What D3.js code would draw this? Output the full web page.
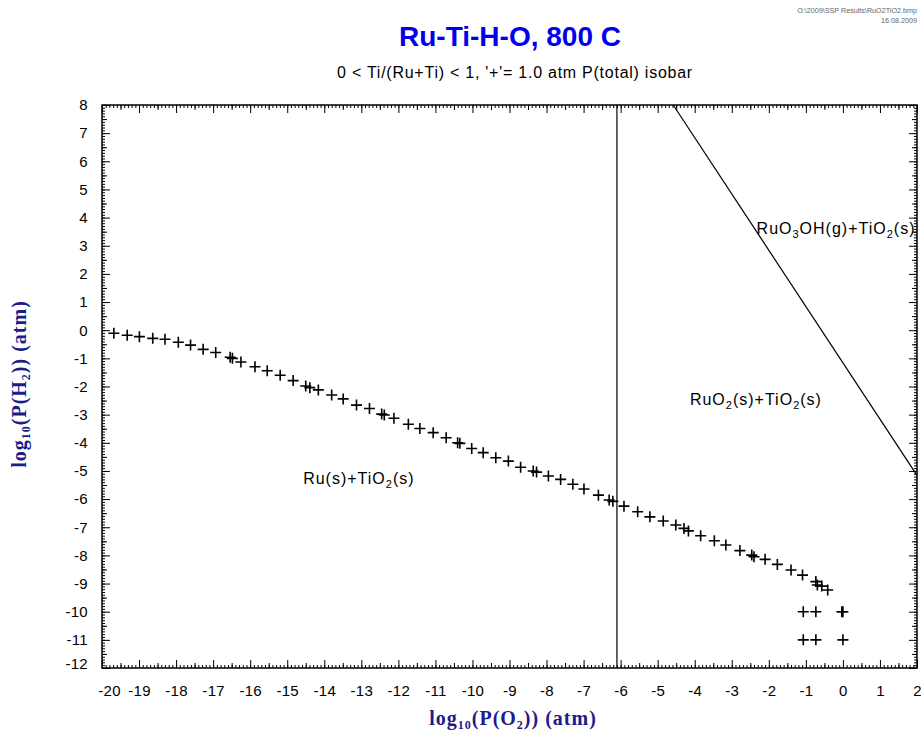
<!DOCTYPE html>
<html lang="en">
<head>
<meta charset="utf-8">
<title>Ru-Ti-H-O, 800 C</title>
<script src="https://d3js.org/d3.v7.min.js"></script>
<style>
  body { margin: 0; background: #fff; }
  svg text { font-family: "Liberation Sans", Arial, sans-serif; }
</style>
</head>
<body>
<div id="chart"></div>
<script>
// ---- data ----
var xTickValues = [-20, -19, -18, -17, -16, -15, -14, -13, -12, -11, -10, -9, -8, -7, -6, -5, -4, -3, -2, -1, 0, 1, 2];
var yTickValues = [8, 7, 6, 5, 4, 3, 2, 1, 0, -1, -2, -3, -4, -5, -6, -7, -8, -9, -10, -11, -12];

// '+' markers : 1.0 atm P(total) isobar
var isobarX = [-19.68, -19.32, -18.99, -18.63, -18.30, -17.94, -17.61, -17.27, -16.93, -16.54, -16.48,
  -16.25, -15.87, -15.54, -15.19, -14.84, -14.50, -14.39, -14.16, -13.80, -13.49, -13.13, -12.78,
  -12.45, -12.38, -12.12, -11.73, -11.42, -11.06, -10.71, -10.40, -10.34, -10.02, -9.71, -9.37,
  -9.03, -8.70, -8.36, -8.27, -7.95, -7.62, -7.29, -6.99, -6.60, -6.31, -6.21, -5.91, -5.54,
  -5.21, -4.85, -4.51, -4.29, -4.17, -3.84, -3.47, -3.16, -2.78, -2.46, -2.40, -2.10, -1.77,
  -1.40, -1.09, -0.73, -0.69, -0.57, -0.41,
  -1.07, -0.73, -0.03, 0.0, -1.07, -0.73, 0.0];
var isobarY = [-0.11, -0.18, -0.23, -0.29, -0.32, -0.43, -0.53, -0.68, -0.79, -0.96, -1.00,
  -1.13, -1.30, -1.44, -1.60, -1.79, -1.98, -2.04, -2.12, -2.30, -2.44, -2.66, -2.78,
  -2.98, -3.01, -3.13, -3.34, -3.49, -3.64, -3.82, -4.00, -4.02, -4.20, -4.35, -4.53,
  -4.65, -4.87, -5.00, -5.04, -5.18, -5.30, -5.47, -5.64, -5.86, -6.03, -6.08, -6.25, -6.45,
  -6.63, -6.78, -6.92, -7.04, -7.13, -7.30, -7.48, -7.63, -7.83, -7.99, -8.05, -8.14, -8.32,
  -8.52, -8.70, -8.93, -9.05, -9.09, -9.23,
  -10.0, -10.0, -10.0, -10.0, -11.0, -11.0, -11.0];

// phase boundaries
var boundaryVertX = [-6.1, -6.1];
var boundaryVertY = [8, -12];
var boundaryDiagX = [-4.58, 2];
var boundaryDiagY = [8, -5.16];

// region labels: [main, sub, main, sub, ...] and their anchor (data coords)
var regionText = [
  ["Ru(s)+TiO", "2", "(s)"],
  ["RuO", "2", "(s)+TiO", "2", "(s)"],
  ["RuO", "3", "OH(g)+TiO", "2", "(s)"]
];
var regionX = [-14.57, -4.13, -2.33];
var regionY = [-5.45, -2.66, 3.42];

// ---- layout ----
var W = 921, H = 738;
var pLeft = 102, pRight = 917, pTop = 105, pBottom = 668;

var svg = d3.select("#chart").append("svg")
  .attr("width", W).attr("height", H);

var x = d3.scaleLinear().domain([-20, 2]).range([pLeft, pRight]);
var y = d3.scaleLinear().domain([-12, 8]).range([pBottom, pTop]);

// header texts
svg.append("text")
  .attr("x", 917).attr("y", 13)
  .attr("text-anchor", "end")
  .style("font-size", "7.2px").style("fill", "#666")
  .text("O:\\2009\\SSP Results\\RuO2TiO2.bmp");
svg.append("text")
  .attr("x", 917).attr("y", 23)
  .attr("text-anchor", "end")
  .style("font-size", "7.2px").style("fill", "#666")
  .text("16.08.2009");

svg.append("text")
  .attr("x", 510).attr("y", 46)
  .attr("text-anchor", "middle")
  .style("font-size", "28px").style("font-weight", "bold").style("fill", "#0000ee")
  .text("Ru-Ti-H-O, 800 C");

svg.append("text")
  .attr("x", 515).attr("y", 78)
  .attr("text-anchor", "middle")
  .style("font-size", "16px").style("letter-spacing", "0.75px").style("fill", "#000")
  .text("0 < Ti/(Ru+Ti) < 1, '+'= 1.0 atm P(total) isobar");

// ---- axes (ticks on all 4 sides, pointing inward) ----
var xMinor = d3.range(-20, 2.001, 0.1).map(function(v) { return Math.round(v * 10) / 10; });
var xMid = d3.range(-19.5, 2, 1);
var yMinor = d3.range(-12, 8.001, 0.1).map(function(v) { return Math.round(v * 10) / 10; });
var yMid = d3.range(-11.5, 8, 1);

function tickLayer(axisFn, scale, vals, size, tr, labels, pad) {
  var a = axisFn(scale).tickValues(vals).tickSize(-size).tickSizeOuter(0);
  if (labels) a.tickPadding(pad).tickFormat(function(d) { return String(d); });
  else a.tickFormat("");
  var g = svg.append("g").attr("transform", tr).call(a);
  g.select(".domain").remove();
  g.selectAll("line").attr("stroke", "#000").attr("stroke-width", 1);
  return g;
}

// bottom
tickLayer(d3.axisBottom, x, xMinor, 3, "translate(0," + pBottom + ")", false);
tickLayer(d3.axisBottom, x, xMid, 5, "translate(0," + pBottom + ")", false);
var gxb = tickLayer(d3.axisBottom, x, xTickValues, 8, "translate(0," + pBottom + ")", true, 17);
gxb.selectAll("text").style("font-size", "15px").style("letter-spacing", "0.3px").style("fill", "#000")
  .attr("dx", function(d) { return d === -20 ? 7 : 0; });
// top
tickLayer(d3.axisTop, x, xMinor, 3, "translate(0," + pTop + ")", false);
tickLayer(d3.axisTop, x, xMid, 5, "translate(0," + pTop + ")", false);
tickLayer(d3.axisTop, x, xTickValues, 8, "translate(0," + pTop + ")", false);
// left
tickLayer(d3.axisLeft, y, yMinor, 3, "translate(" + pLeft + ",0)", false);
tickLayer(d3.axisLeft, y, yMid, 5, "translate(" + pLeft + ",0)", false);
var gyl = tickLayer(d3.axisLeft, y, yTickValues, 8, "translate(" + pLeft + ",0)", true, 14);
gyl.selectAll("text").style("font-size", "15px").style("letter-spacing", "0.3px").style("fill", "#000")
  .attr("dy", function(d) { return d === -12 ? "0.0em" : "0.32em"; });
// right
tickLayer(d3.axisRight, y, yMinor, 3, "translate(" + pRight + ",0)", false);
tickLayer(d3.axisRight, y, yMid, 5, "translate(" + pRight + ",0)", false);
tickLayer(d3.axisRight, y, yTickValues, 8, "translate(" + pRight + ",0)", false);

// frame
svg.append("rect")
  .attr("x", pLeft).attr("y", pTop)
  .attr("width", pRight - pLeft).attr("height", pBottom - pTop)
  .attr("fill", "none").attr("stroke", "#000").attr("stroke-width", 1.5);

// ---- phase boundaries ----
var line = d3.line().x(function(d) { return x(d[0]); }).y(function(d) { return y(d[1]); });
svg.append("path")
  .datum(d3.zip(boundaryVertX, boundaryVertY))
  .attr("d", line).attr("fill", "none").attr("stroke", "#000").attr("stroke-width", 1.2);
svg.append("path")
  .datum(d3.zip(boundaryDiagX, boundaryDiagY))
  .attr("d", line).attr("fill", "none").attr("stroke", "#000").attr("stroke-width", 1.2);

// ---- isobar markers ----
var pts = d3.zip(isobarX, isobarY);
svg.append("g").selectAll("path.plus")
  .data(pts).enter().append("path")
  .attr("class", "plus")
  .attr("transform", function(d) { return "translate(" + x(d[0]) + "," + y(d[1]) + ")"; })
  .attr("d", "M-5.5,0H5.5M0,-5.5V5.5")
  .attr("stroke", "#000").attr("stroke-width", 1.6).attr("fill", "none");

// ---- region labels ----
regionText.forEach(function(parts, i) {
  var t = svg.append("text")
    .attr("x", x(regionX[i])).attr("y", y(regionY[i]))
    .style("font-size", "16px").style("letter-spacing", "1px").style("fill", "#000");
  parts.forEach(function(p, j) {
    var isSub = j % 2 === 1;
    t.append("tspan")
      .attr("dy", isSub ? 4 : (j === 0 ? 0 : -4))
      .style("font-size", isSub ? "11px" : "16px")
      .text(p);
  });
});

// ---- axis titles ----
var titleFont = "'Liberation Serif', 'Times New Roman', serif";
function axisTitle(sel, sym) {
  sel.style("font-family", titleFont)
    .style("font-size", "20px").style("font-weight", "bold").style("fill", "#1c1c8a")
    .style("letter-spacing", "1px")
    .attr("text-anchor", "middle");
  sel.append("tspan").text("log");
  sel.append("tspan").attr("dy", 4).style("font-size", "12px").text("10");
  sel.append("tspan").attr("dy", -4).text("(P(" + sym);
  sel.append("tspan").attr("dy", 4).style("font-size", "12px").text("2");
  sel.append("tspan").attr("dy", -4).text(")) (atm)");
}
axisTitle(svg.append("text").attr("x", 513).attr("y", 725), "O");
axisTitle(svg.append("text").attr("transform", "translate(26,384) rotate(-90)"), "H");
</script>
</body>
</html>
